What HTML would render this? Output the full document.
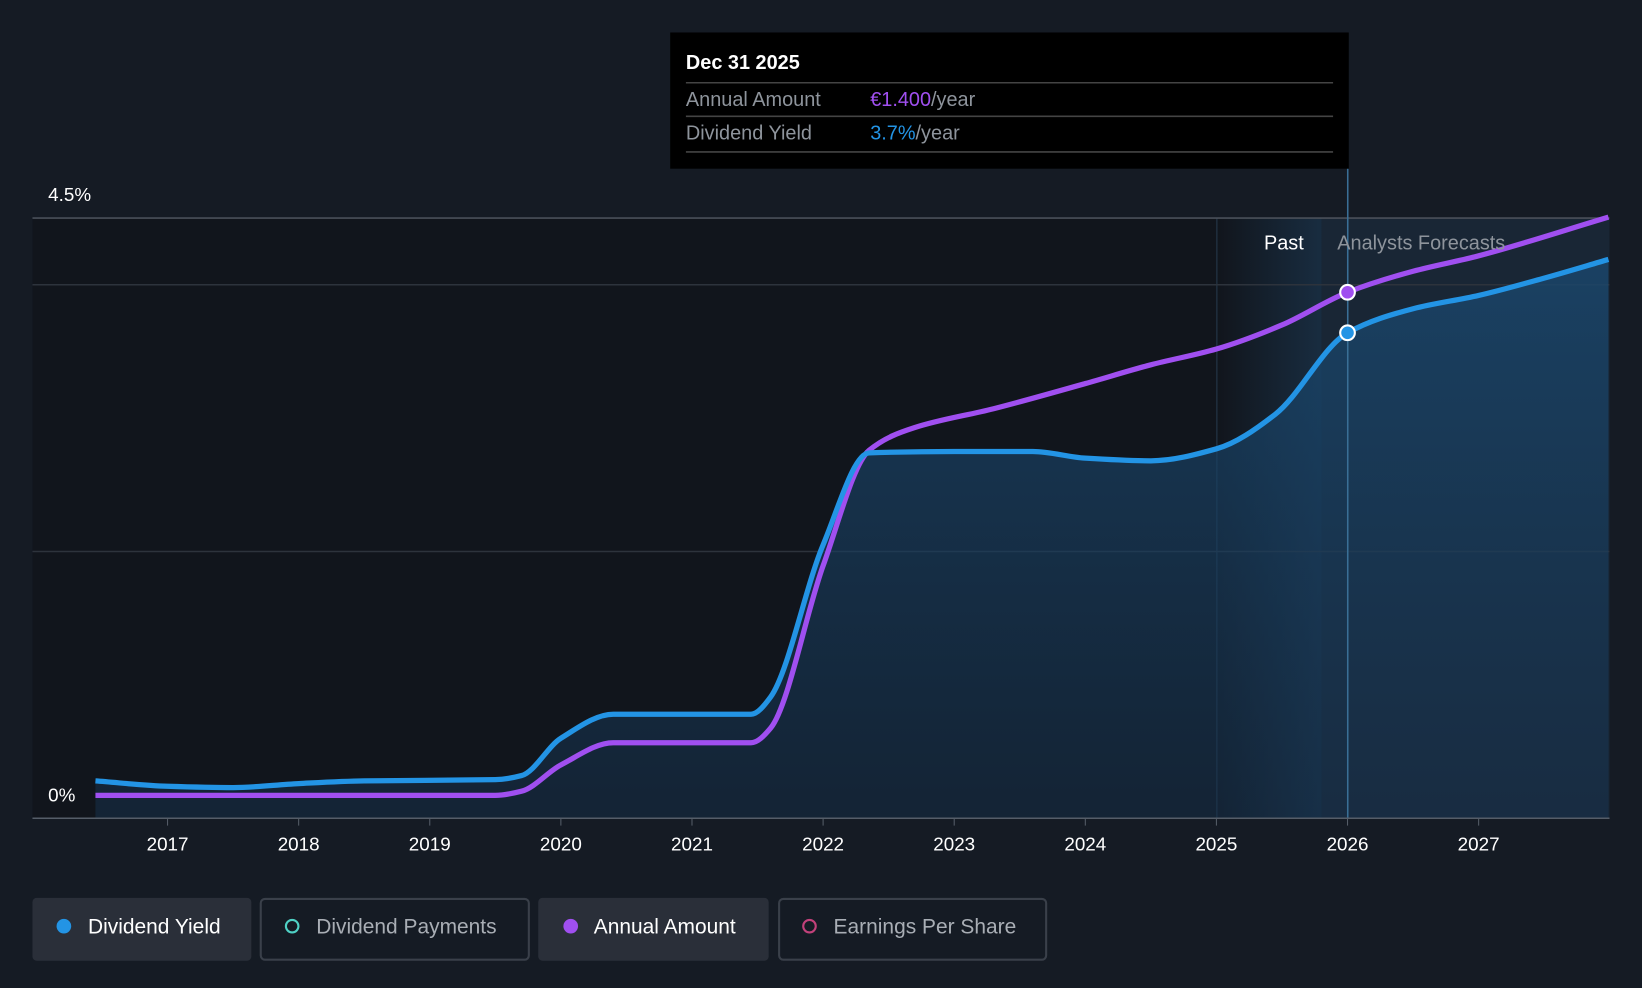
<!DOCTYPE html>
<html><head><meta charset="utf-8"><style>
html,body{margin:0;padding:0;background:#151b24;width:1642px;height:988px;overflow:hidden}
svg{display:block;font-family:"Liberation Sans",Arial,sans-serif}
</style></head><body>
<svg id="chart" width="1642" height="988" viewBox="0 0 1568 943" preserveAspectRatio="none" xmlns="http://www.w3.org/2000/svg">
<defs>
<linearGradient id="areaG" x1="0" y1="0" x2="0" y2="1"><stop offset="0" stop-color="#1a4a72" stop-opacity="0.75"/><stop offset="1" stop-color="#16324e" stop-opacity="0.5"/></linearGradient>
<linearGradient id="pastG" x1="0" y1="0" x2="1" y2="0"><stop offset="0" stop-color="#1d3c58" stop-opacity="0"/><stop offset="1" stop-color="#1d3c58" stop-opacity="0.6"/></linearGradient>
</defs>
<rect width="1568" height="943" fill="#151b24"/>
<rect x="31" y="208" width="1506" height="573" fill="#11151c"/>
<rect x="1162" y="208" width="100" height="573" fill="url(#pastG)"/>
<line x1="1162" y1="208" x2="1162" y2="781" stroke="#1f2e3d" stroke-width="1.5"/>
<rect x="1262" y="208" width="275" height="573" fill="#1b2b3c" opacity="0.8"/>
<g id="grid"></g>
<path id="area" fill="url(#areaG)"/>
<path id="amtLine" fill="none" stroke="#a04ff0" stroke-width="5"/>
<path id="yieldLine" fill="none" stroke="#2394e5" stroke-width="5"/>
<line x1="1287" y1="161" x2="1287" y2="781" stroke="#3a6f96" stroke-width="1.5"/>
<line x1="31" y1="781" x2="1537" y2="781" stroke="#555d68" stroke-width="1.5"/>
<g id="xticks"></g>
<text x="46" y="192" fill="#fff" font-size="18">4.5%</text>
<text x="46" y="765" fill="#fff" font-size="18">0%</text>
<text x="1245" y="238" fill="#fff" font-size="19" text-anchor="end">Past</text>
<text x="1277" y="238" fill="#8e949c" font-size="19">Analysts Forecasts</text>
<circle id="amtDot" r="7" fill="#a04ff0" stroke="#fff" stroke-width="2"/>
<circle id="yieldDot" r="7" fill="#2394e5" stroke="#fff" stroke-width="2"/>
<g>
<rect x="640" y="31" width="648" height="130" fill="#000"/>
<text x="655" y="66" fill="#fff" font-size="19" font-weight="bold">Dec 31 2025</text>
<line x1="655" y1="79" x2="1273" y2="79" stroke="#444" stroke-width="1.5"/>
<text x="655" y="101" fill="#8e949c" font-size="19">Annual Amount</text>
<text x="831" y="101" font-size="19"><tspan fill="#a04ff0">€1.400</tspan><tspan fill="#8e949c">/year</tspan></text>
<line x1="655" y1="111" x2="1273" y2="111" stroke="#444" stroke-width="1.5"/>
<text x="655" y="133" fill="#8e949c" font-size="19">Dividend Yield</text>
<text x="831" y="133" font-size="19"><tspan fill="#2394e5">3.7%</tspan><tspan fill="#8e949c">/year</tspan></text>
<line x1="655" y1="145" x2="1273" y2="145" stroke="#444" stroke-width="1.5"/>
</g>
<g>
<g><rect x="31" y="857" width="209" height="60" rx="4" fill="#2a2f39"/><circle cx="61" cy="884" r="7" fill="#2394e5"/><text x="84" y="891" fill="#fff" font-size="20">Dividend Yield</text></g>
<g><rect x="249" y="858" width="256" height="58" rx="4" fill="none" stroke="#3a404a" stroke-width="2"/><circle cx="279" cy="884" r="6" fill="none" stroke="#4fd1c5" stroke-width="2"/><text x="302" y="891" fill="#a9aeb5" font-size="20">Dividend Payments</text></g>
<g><rect x="514" y="857" width="220" height="60" rx="4" fill="#2a2f39"/><circle cx="545" cy="884" r="7" fill="#a04ff0"/><text x="567" y="891" fill="#fff" font-size="20">Annual Amount</text></g>
<g><rect x="744" y="858" width="255" height="58" rx="4" fill="none" stroke="#3a404a" stroke-width="2"/><circle cx="773" cy="884" r="6" fill="none" stroke="#c2417a" stroke-width="2"/><text x="796" y="891" fill="#a9aeb5" font-size="20">Earnings Per Share</text></g>
</g>
</svg>
<script>
const yieldYears=[2016.45,2017,2017.5,2018,2018.5,2019.5,2019.7,2020,2020.4,2021.45,2021.6,2022,2022.35,2023,2023.6,2024,2024.5,2025,2025.45,2026,2026.5,2027,2027.5,2027.99];
const yieldValues=[0.28,0.24,0.23,0.26,0.28,0.29,0.32,0.60,0.78,0.78,0.91,2.05,2.74,2.75,2.75,2.70,2.68,2.77,3.03,3.64,3.82,3.92,4.05,4.19];
const amtYears=[2016.45,2019.5,2019.7,2020,2020.4,2021.45,2021.6,2022,2022.35,2022.7,2023.3,2024,2024.5,2025,2025.5,2026,2026.5,2027,2027.99];
const amtValues=[0.061,0.061,0.072,0.142,0.201,0.201,0.24,0.672,0.979,1.04,1.09,1.157,1.207,1.249,1.313,1.40,1.456,1.497,1.60];
const tickYears=[2017,2018,2019,2020,2021,2022,2023,2024,2025,2026,2027];
const gridValues=[4.5,4.0,2.0];
const markerYear=2026, markerYield=3.64, markerAmt=1.40;
const NS="http://www.w3.org/2000/svg";
const xS=y=>160+(y-2017)*125.2;
const yY=v=>781-v*127.3;
const yA=v=>781-v*358.6;
function smooth(pts){
  const n=pts.length,m=[],d=[];
  for(let i=0;i<n-1;i++)d.push((pts[i+1][1]-pts[i][1])/(pts[i+1][0]-pts[i][0]));
  for(let i=0;i<n;i++){
    if(i==0)m.push(d[0]);else if(i==n-1)m.push(d[n-2]);
    else m.push(d[i-1]*d[i]<=0?0:2/(1/d[i-1]+1/d[i]));
  }
  let s="M"+pts[0][0]+","+pts[0][1];
  for(let i=0;i<n-1;i++){const h=(pts[i+1][0]-pts[i][0])/3;
    s+=" C"+(pts[i][0]+h)+","+(pts[i][1]+m[i]*h)+" "+(pts[i+1][0]-h)+","+(pts[i+1][1]-m[i+1]*h)+" "+pts[i+1][0]+","+pts[i+1][1];}
  return s;
}
const yp=yieldYears.map((t,i)=>[xS(t),yY(yieldValues[i])]);
const ap=amtYears.map((t,i)=>[xS(t),yA(amtValues[i])]);
const yd=smooth(yp);
document.getElementById('yieldLine').setAttribute('d',yd);
document.getElementById('amtLine').setAttribute('d',smooth(ap));
document.getElementById('area').setAttribute('d',yd+" L"+yp[yp.length-1][0]+",781 L"+yp[0][0]+",781 Z");
const g=document.getElementById('grid');
gridValues.forEach(v=>{const l=document.createElementNS(NS,'line');


l.setAttribute('x1',31);l.setAttribute('x2',1537);l.setAttribute('y1',yY(v));l.setAttribute('y2',yY(v));
l.setAttribute('stroke',v==4.5?'#4a5059':'#2d333c');l.setAttribute('stroke-width',1.5);g.appendChild(l);});
const xt=document.getElementById('xticks');
tickYears.forEach(t=>{const l=document.createElementNS(NS,'line');


l.setAttribute('x1',xS(t));l.setAttribute('x2',xS(t));l.setAttribute('y1',781);l.setAttribute('y2',788);l.setAttribute('stroke','#555d68');xt.appendChild(l);
const tx=document.createElementNS(NS,'text');


tx.setAttribute('x',xS(t));tx.setAttribute('y',812);tx.setAttribute('fill','#fff');tx.setAttribute('font-size','18');tx.setAttribute('text-anchor','middle');tx.textContent=t;xt.appendChild(tx);});
const ad=document.getElementById('amtDot');ad.setAttribute('cx',xS(markerYear));ad.setAttribute('cy',yA(markerAmt));
const ydt=document.getElementById('yieldDot');ydt.setAttribute('cx',xS(markerYear));ydt.setAttribute('cy',yY(markerYield));
</script>
</body></html>
